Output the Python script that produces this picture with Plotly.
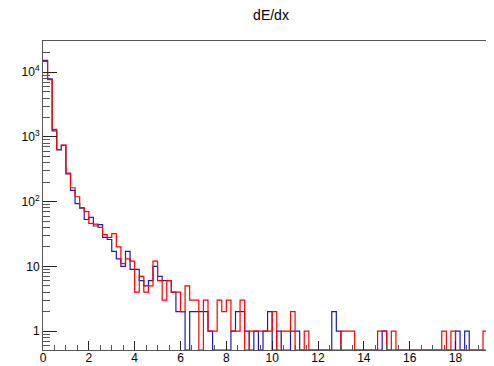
import numpy as np
import plotly.graph_objects as go

# ---------------- data ----------------
bin_width = 0.2
n_bins = 100

blue_counts = [
    15300, 7900, 1240, 630, 740, 268, 149, 93, 79, 53,
    57, 42, 44, 28, 26, 17, 13, 10, 17, 9,
    9, 6, 5, 6, 10, 7, 6, 6, 4, 2,
    2, 0, 2, 2, 2, 2, 1, 0, 0, 0,
    0, 1, 2, 2, 1, 0, 1, 0, 1, 2,
    0, 1, 0, 0, 1, 1, 0, 0, 0, 0,
    0, 0, 0, 2, 1, 0, 0, 0, 0, 0,
    0, 0, 0, 0, 1, 0, 0, 0, 0, 0,
    0, 0, 0, 0, 0, 0, 0, 0, 0, 0,
    1, 0, 1, 0, 0, 0, 0, 0, 1, 0,
]

red_counts = [
    14700, 7700, 1310, 640, 745, 276, 164, 119, 81, 70,
    46, 45, 40, 31, 28, 32, 20, 11, 13, 12,
    4, 7, 4, 5, 12, 6, 3, 6, 4, 4,
    2, 5, 3, 3, 0, 3, 1, 1, 3, 2,
    3, 1, 1, 3, 0, 1, 1, 1, 1, 1,
    2, 0, 1, 1, 2, 0, 0, 1, 0, 0,
    0, 0, 0, 0, 0, 1, 1, 1, 0, 0,
    0, 0, 0, 1, 1, 0, 1, 0, 0, 0,
    0, 0, 0, 0, 0, 0, 0, 1, 0, 1,
    0, 0, 0, 0, 0, 0, 1, 0, 0, 0,
]

y_tick_values = [1, 10, 100, 1000, 10000]
y_tick_labels = ["1", "10", "10<sup>2</sup>", "10<sup>3</sup>", "10<sup>4</sup>"]
x_tick_values = [0, 2, 4, 6, 8, 10, 12, 14, 16, 18]
x_tick_labels = ["0", "2", "4", "6", "8", "10", "12", "14", "16", "18"]
title_text = "dE/dx"

# ---------------- geometry ----------------
# the page body has an 8px margin, so the figure is sized to fill the rest
page_off = 8
y_log_min = -0.293
y_log_max = 4.483
x_max = 19.68

edges = np.arange(n_bins + 1) * bin_width
floor_val = 10 ** y_log_min


def step_xy(counts):
    y = [c if c > 0 else floor_val for c in counts]
    return list(edges), y + [y[-1]]


minor_y = []
for k in range(-1, 5):
    for m in range(2, 10):
        v = m * 10 ** k
        if y_log_min < np.log10(v) < y_log_max:
            minor_y.append(v)

fig = go.Figure()
for counts, color in [(blue_counts, "#1c1cb4"), (red_counts, "#ff0000")]:
    xs, ys = step_xy(counts)
    fig.add_trace(go.Scatter(
        x=xs, y=ys, mode="lines", line=dict(shape="hv", color=color, width=1.2),
        showlegend=False, hoverinfo="skip", cliponaxis=True,
    ))

W = 494 - page_off
H = 366 - page_off
fig.update_layout(
    width=W, height=H,
    margin=dict(l=43 - page_off, r=0, t=41 - page_off, b=16, autoexpand=False),
    paper_bgcolor="white", plot_bgcolor="white",
    font=dict(family="Liberation Sans, Arial, sans-serif", size=12, color="black"),
    title=dict(text=title_text, x=(271 - page_off) / W, xref="container", xanchor="center",
               y=1 - (15 - page_off) / H, yref="container", yanchor="middle",
               font=dict(size=14, color="black")),
)

fig.update_xaxes(
    range=[0, x_max], showgrid=False, zeroline=False, automargin=False,
    showline=True, linecolor="#555555", linewidth=1, mirror=True,
    tickmode="array", tickvals=x_tick_values, ticktext=x_tick_labels,
    ticks="inside", ticklen=9, tickcolor="#222222", tickwidth=1,
    ticklabelstandoff=-3,
    minor=dict(ticks="inside", ticklen=5, tickcolor="#555555", dtick=0.5, tick0=0, showgrid=False),
    tickfont=dict(size=12),
)
fig.update_yaxes(
    type="log", range=[y_log_min, y_log_max], showgrid=False, zeroline=False, automargin=False,
    showline=True, linecolor="#555555", linewidth=1, mirror=False,
    tickmode="array", tickvals=y_tick_values, ticktext=y_tick_labels,
    ticks="inside", ticklen=14, tickcolor="#222222", tickwidth=1,
    minor=dict(ticks="inside", ticklen=7, tickcolor="#555555", tickmode="array",
               tickvals=minor_y, showgrid=False),
    tickfont=dict(size=12),
)

fig.write_html("out.html")
